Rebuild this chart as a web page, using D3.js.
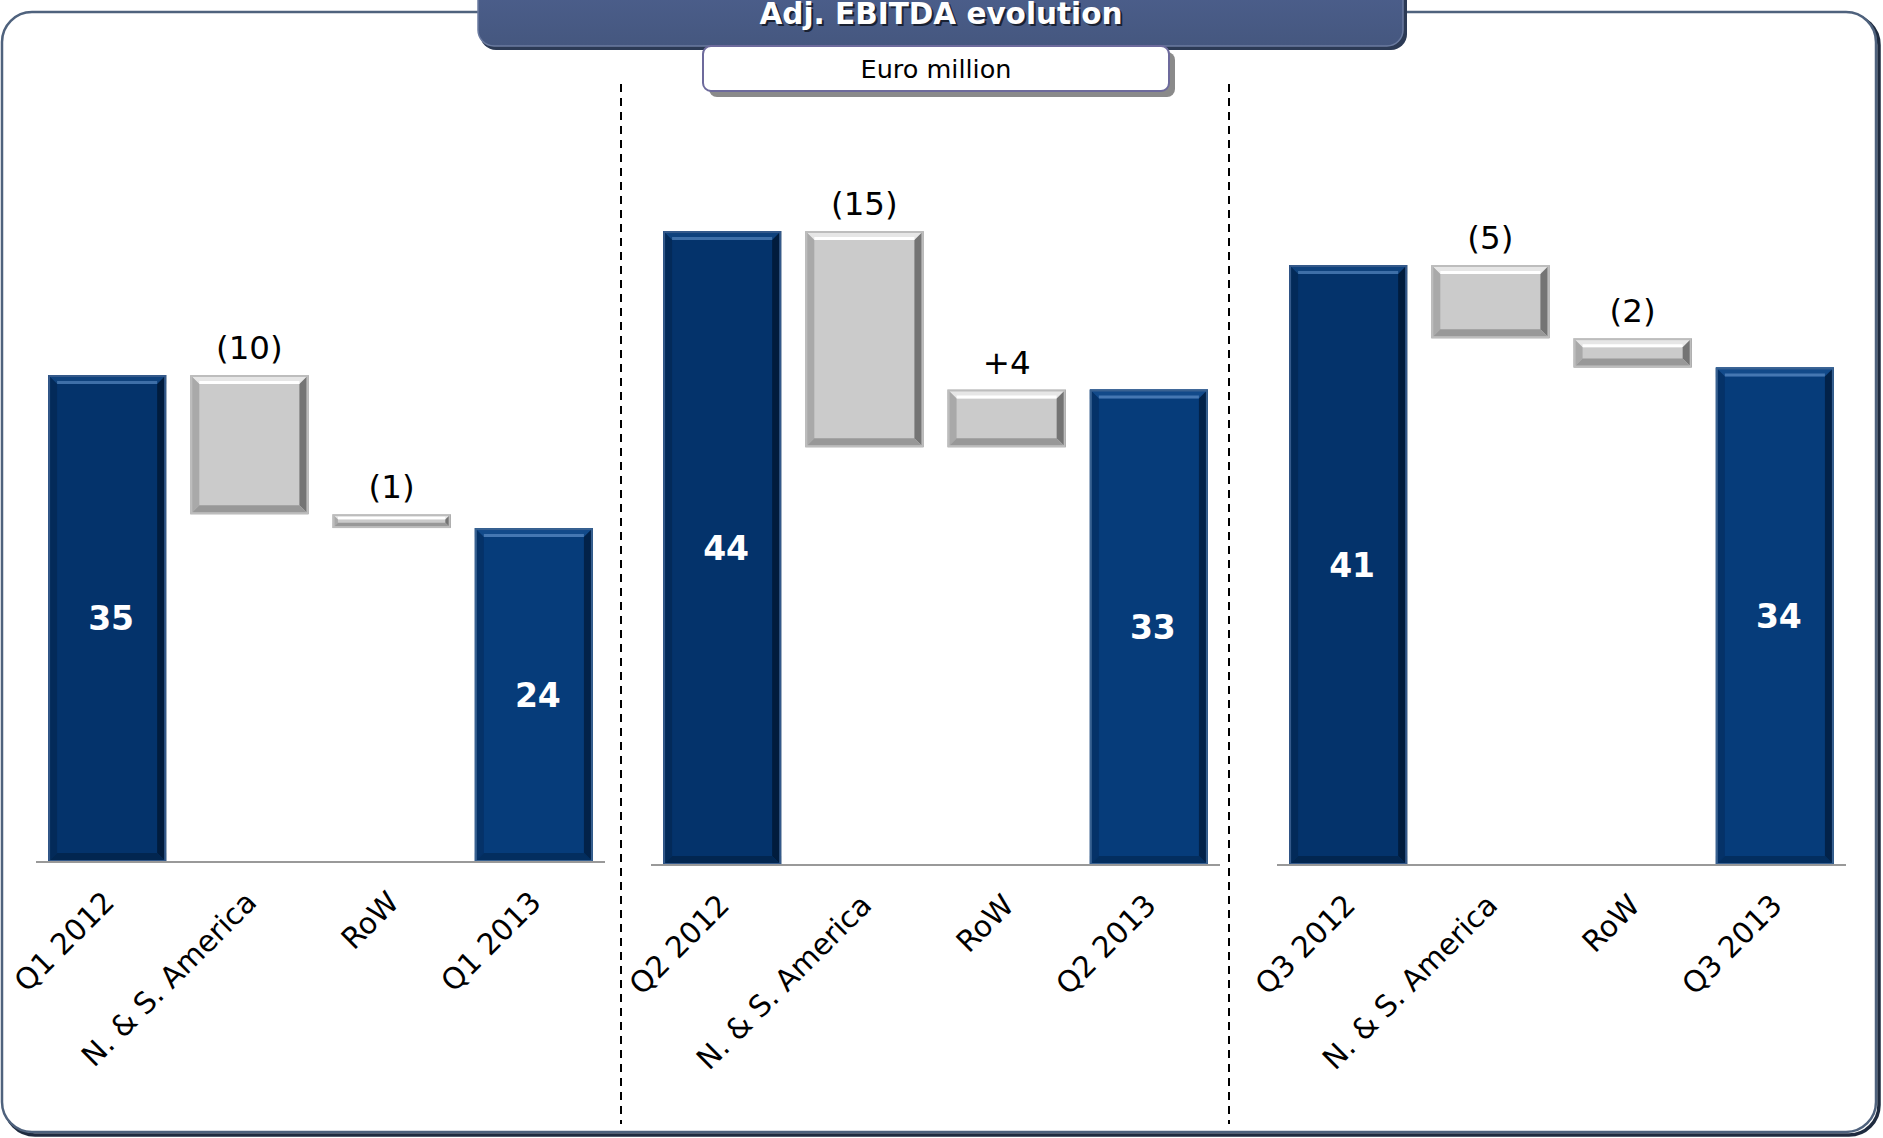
<!DOCTYPE html>
<html>
<head>
<meta charset="utf-8"/>
<script src="https://d3js.org/d3.v7.min.js"></script>
<style>
  body { margin: 0; background: #fff; }
  text { font-family: "DejaVu Sans", Verdana, sans-serif; }
</style>
</head>
<body>
<svg id="chart" width="1883" height="1138"></svg>
<script>
// data
const quarters = ["Q1", "Q2", "Q3"];
const categoryLabels = [
  ["Q1 2012", "N. & S. America", "RoW", "Q1 2013"],
  ["Q2 2012", "N. & S. America", "RoW", "Q2 2013"],
  ["Q3 2012", "N. & S. America", "RoW", "Q3 2013"]
];
const startValues = [35, 44, 41];
const americasDeltas = [-10, -15, -5];
const rowDeltas = [-1, 4, -2];
const endValues = [24, 33, 34];

// layout of the three panels
const panelX = [36, 651, 1277];
const panelW = 569;
const baseY = [862, 865, 865];
const topY = [375, 231, 265];
const dividers = [621, 1229];

let svg = d3.select("svg#chart");

// outer frame
svg.append("rect")
  .attr("x", 5).attr("y", 15).attr("width", 1874).attr("height", 1120)
  .attr("rx", 30)
  .style("fill", "none").style("stroke", "#1f2b3f").style("stroke-width", 3.5);
svg.append("rect")
  .attr("x", 2).attr("y", 12).attr("width", 1874).attr("height", 1120)
  .attr("rx", 30)
  .style("fill", "#fff").style("stroke", "#4f627d").style("stroke-width", 2.5);

// title box
let defs = svg.append("defs");
let tg = defs.append("linearGradient").attr("id", "titleGrad")
  .attr("x1", 0).attr("y1", 0).attr("x2", 0).attr("y2", 1);
tg.append("stop").attr("offset", "0%").attr("stop-color", "#4e6190");
tg.append("stop").attr("offset", "100%").attr("stop-color", "#45577f");

svg.append("rect")
  .attr("x", 480).attr("y", -30).attr("width", 927).attr("height", 80)
  .attr("rx", 16)
  .style("fill", "#2c3a55");
svg.append("rect")
  .attr("x", 478).attr("y", -30).attr("width", 925).attr("height", 76)
  .attr("rx", 16)
  .style("fill", "url(#titleGrad)").style("stroke", "#6b7ba0").style("stroke-width", 1.5);
svg.append("text")
  .text("Adj. EBITDA evolution")
  .attr("x", 943).attr("y", 26)
  .attr("text-anchor", "middle")
  .style("font-size", "29.5px").style("font-weight", "bold")
  .style("fill", "#1a2233");
svg.append("text")
  .text("Adj. EBITDA evolution")
  .attr("x", 941).attr("y", 24)
  .attr("text-anchor", "middle")
  .style("font-size", "29.5px").style("font-weight", "bold")
  .style("fill", "#fff");

// subtitle box
svg.append("rect")
  .attr("x", 709).attr("y", 52).attr("width", 466).attr("height", 45)
  .attr("rx", 8)
  .style("fill", "#8a8a8a");
svg.append("rect")
  .attr("x", 703).attr("y", 46).attr("width", 466).attr("height", 45)
  .attr("rx", 8)
  .style("fill", "#fff").style("stroke", "#6d6a9c").style("stroke-width", 2);
svg.append("text")
  .text("Euro million")
  .attr("x", 936).attr("y", 78)
  .attr("text-anchor", "middle")
  .style("font-size", "25.5px")
  .style("fill", "#000");

// dashed dividers
dividers.forEach(function(x) {
  svg.append("line")
    .attr("x1", x).attr("x2", x)
    .attr("y1", 84).attr("y2", 1124)
    .style("stroke", "#000").style("stroke-width", 2)
    .style("stroke-dasharray", "8,6");
});

// bevelled bar
function drawBar(g, x, y, w, h, kind) {
  let c;
  if (kind == "start") c = { base: "#04336b", top: "#0f427d", hi: "#3e6fa8", left: "#032a59", right: "#011c3d", bottom: "#022650", rim: "#34598a" };
  else if (kind == "end") c = { base: "#063c7a", top: "#124a8a", hi: "#4577b2", left: "#053268", right: "#022249", bottom: "#032e5f", rim: "#386191" };
  else c = { base: "#cbcbcb", top: "#e6e6e6", hi: "#ffffff", left: "#a9a9a9", right: "#747474", bottom: "#989898", rim: "#bdbdbd" };
  let b = Math.min(9, h / 2.6);
  g.append("rect")
    .attr("x", x).attr("y", y).attr("width", w).attr("height", h)
    .style("fill", c.base);
  let pts = [
    [[x, y], [x + w, y], [x + w - b, y + b], [x + b, y + b], c.top],
    [[x, y], [x + b, y + b], [x + b, y + h - b], [x, y + h], c.left],
    [[x + w, y], [x + w, y + h], [x + w - b, y + h - b], [x + w - b, y + b], c.right],
    [[x, y + h], [x + b, y + h - b], [x + w - b, y + h - b], [x + w, y + h], c.bottom]
  ];
  pts.forEach(function(p) {
    g.append("polygon")
      .attr("points", p.slice(0, 4).map(q => q.join(",")).join(" "))
      .style("fill", p[4]);
  });
  // highlight along inner top edge
  g.append("line")
    .attr("x1", x + b).attr("x2", x + w - b)
    .attr("y1", y + b - 1.5).attr("y2", y + b - 1.5)
    .style("stroke", c.hi).style("stroke-width", Math.min(3, b / 2));
  g.append("rect")
    .attr("x", x + 1).attr("y", y + 1).attr("width", w - 2).attr("height", h - 2)
    .style("fill", "none").style("stroke", c.rim).style("stroke-width", 2);
}

function deltaText(v) {
  return v < 0 ? "(" + (-v) + ")" : "+" + v;
}

quarters.forEach(function(q, i) {
  let g = svg.append("g");
  let s = startValues[i];
  let a = s + americasDeltas[i];
  let r = a + rowDeltas[i];
  let steps = [
    { label: categoryLabels[i][0], from: 0, to: s, kind: "start", value: s },
    { label: categoryLabels[i][1], from: s, to: a, kind: "delta", value: americasDeltas[i] },
    { label: categoryLabels[i][2], from: a, to: r, kind: "delta", value: rowDeltas[i] },
    { label: categoryLabels[i][3], from: 0, to: endValues[i], kind: "end", value: endValues[i] }
  ];

  let xScale = d3.scaleBand()
    .domain(steps.map(d => d.label + i))
    .range([panelX[i], panelX[i] + panelW])
    .paddingInner(0.17).paddingOuter(0.085);
  let yScale = d3.scaleLinear()
    .domain([0, s])
    .range([baseY[i], topY[i]]);

  steps.forEach(function(d, j) {
    let x = xScale(d.label + i);
    let w = xScale.bandwidth();
    let y0 = yScale(Math.max(d.from, d.to));
    let y1 = yScale(Math.min(d.from, d.to));
    drawBar(g, x, y0, w, y1 - y0, d.kind);
    let cx = x + w / 2;
    if (d.kind == "delta") {
      g.append("text")
        .text(deltaText(d.value))
        .attr("x", cx).attr("y", y0 - 16)
        .attr("text-anchor", "middle")
        .style("font-size", "32.5px").style("fill", "#000");
    } else {
      g.append("text")
        .text(d.value)
        .attr("x", cx + 4).attr("y", (y0 + y1) / 2)
        .attr("text-anchor", "middle")
        .attr("dominant-baseline", "central")
        .style("font-size", "33px").style("font-weight", "bold")
        .style("fill", "#fff");
    }
    // rotated category label
    g.append("text")
      .text(d.label)
      .attr("text-anchor", "end")
      .attr("transform", "translate(" + (cx + 9) + "," + (baseY[i] + 42) + ") rotate(-45)")
      .style("font-size", "29.5px").style("fill", "#000");
  });

  // base line
  g.append("line")
    .attr("x1", panelX[i]).attr("x2", panelX[i] + panelW)
    .attr("y1", baseY[i]).attr("y2", baseY[i])
    .style("stroke", "#999").style("stroke-width", 2);
});
</script>
</body>
</html>
